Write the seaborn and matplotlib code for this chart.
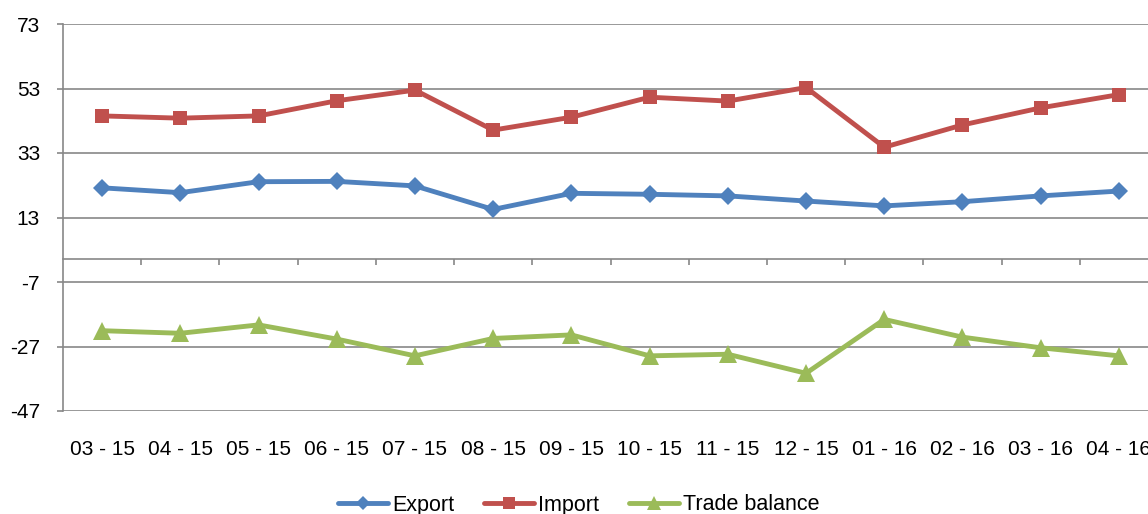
import numpy as np
import pandas as pd
import matplotlib
matplotlib.use("Agg")
import matplotlib.pyplot as plt
import seaborn as sns

# Monthly trade figures
months = ["03 - 15", "04 - 15", "05 - 15", "06 - 15", "07 - 15", "08 - 15", "09 - 15",
          "10 - 15", "11 - 15", "12 - 15", "01 - 16", "02 - 16", "03 - 16", "04 - 16"]
export = [22.2, 20.7, 24.1, 24.2, 22.8, 15.5, 20.5, 20.2, 19.7, 18.1, 16.6, 17.9, 19.7, 21.2]
imports = [44.5, 43.8, 44.5, 49.2, 52.5, 40.1, 44.1, 50.3, 49.1, 53.3, 34.8, 41.7, 47.0, 51.1]
trade_balance = [-22.1, -22.9, -20.3, -24.7, -29.9, -24.5, -23.4, -29.9, -29.4, -35.3,
                 -18.6, -24.1, -27.4, -29.9]
y_ticks = [-47, -27, -7, 13, 33, 53, 73]

series_names = ["Export", "Import", "Trade balance"]
colors = {"Export": "#4F81BD", "Import": "#C0504D", "Trade balance": "#9BBB59"}
markers = {"Export": "D", "Import": "s", "Trade balance": "^"}
sizes = {"Export": 9, "Import": 10.5, "Trade balance": 13}

df = pd.DataFrame({
    "Month": months * 3,
    "Value": export + imports + trade_balance,
    "Series": ["Export"] * len(months) + ["Import"] * len(months) + ["Trade balance"] * len(months),
})

sns.set_theme(style="white")
plt.rcParams["font.family"] = ["Liberation Sans", "DejaVu Sans"]
plt.rcParams["axes.unicode_minus"] = False
plt.rcParams["text.color"] = "black"
plt.rcParams["xtick.labelcolor"] = "black"
plt.rcParams["ytick.labelcolor"] = "black"

grey = "#878787"
fig = plt.figure(figsize=(11.48, 5.14), dpi=100)
ax = fig.add_axes([63 / 1148, 103 / 514, 1095 / 1148, 387 / 514])

for name in series_names:
    sub = df[df["Series"] == name]
    sns.lineplot(data=sub, x="Month", y="Value", ax=ax, color=colors[name],
                 marker=markers[name], markersize=sizes[name], markeredgewidth=0,
                 linewidth=3.5, label=name, sort=False)

ax.set_ylim(-47, 73)
ax.set_xlim(-0.5, len(months) - 0.5)
ax.set_yticks(y_ticks)
ax.yaxis.grid(True, color=grey, linewidth=1.2)
ax.tick_params(axis="y", left=True, length=4.5, width=1.2, color=grey, pad=12,
               labelsize=15, labelcolor="black")
for side in ["top", "right"]:
    ax.spines[side].set_visible(False)
ax.spines["left"].set_color(grey)
ax.spines["left"].set_linewidth(1.2)

# category axis crossing at zero with ticks between categories
ax.spines["bottom"].set_position(("data", 0))
ax.spines["bottom"].set_color(grey)
ax.spines["bottom"].set_linewidth(1.2)
ax.set_xticks(np.arange(len(months) - 1) + 0.5)
ax.tick_params(axis="x", bottom=True, length=4, width=1.2, color=grey, labelbottom=False)
ax.set_xlabel("")
ax.set_ylabel("")

sec = ax.secondary_xaxis("bottom")
sec.set_xticks(np.arange(len(months)), labels=months)
sec.tick_params(axis="x", length=0, pad=21, labelsize=15, labelcolor="black")
sec.spines["bottom"].set_visible(False)

handles, labels = ax.get_legend_handles_labels()
ax.get_legend().remove()
fig.legend(handles, labels, loc="center", bbox_to_anchor=(579 / 1148, 9 / 514), ncol=3,
           frameon=False, fontsize=15.5, handlelength=2.3, handletextpad=0.2,
           columnspacing=1.4, markerscale=0.8)

fig.savefig("out.png", dpi=100)
